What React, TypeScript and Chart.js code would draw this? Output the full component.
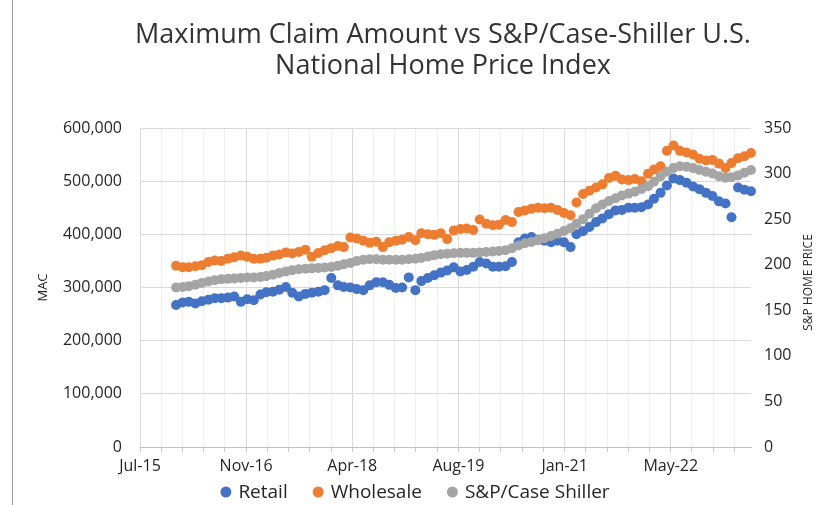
import { useEffect, useRef } from "react";
import { Chart, registerables } from "chart.js";

Chart.register(...registerables);

// ---- Data (monthly, Jan 2016 .. Jun 2023) ----
const firstMonth = { year: 2016, month: 0 };
const axisOrigin = { year: 2015, month: 6, day: 15 }; // "Jul-15"

const retail = [
  267, 272, 273, 270, 274, 277, 280, 280, 281, 283,
  273, 278, 276, 287, 291, 292, 296, 301, 290, 283,
  288, 290, 292, 295, 318, 304, 301, 300, 297, 295,
  304, 310, 310, 305, 299, 300, 319, 295, 312, 318,
  323, 328, 332, 338, 330, 333, 339, 348, 345, 339,
  339, 340, 348, 385, 392, 395, 390, 388, 385, 388,
  385, 376, 400, 406, 414, 423, 430, 438, 445, 446,
  450, 450, 451, 456, 467, 478, 492, 505, 502, 497,
  490, 485, 478, 472, 462, 458, 432, 488, 484, 481,
].map((v) => v * 1000);

const wholesale = [
  341, 338, 338, 340, 342, 348, 351, 350, 354, 357,
  360, 358, 354, 354, 356, 360, 362, 366, 364, 367,
  371, 358, 365, 370, 374, 378, 376, 394, 392, 388,
  384, 386, 376, 385, 388, 390, 395, 389, 402, 400,
  399, 402, 391, 407, 410, 411, 408, 428, 420, 417,
  418, 427, 423, 442, 445, 448, 450, 449, 450, 446,
  440, 436, 460, 476, 482, 488, 494, 506, 510, 503,
  502, 504, 500, 514, 522, 528, 557, 567, 557, 554,
  550, 542, 539, 540, 533, 525, 534, 543, 547, 553,
].map((v) => v * 1000);

const caseShiller = [
  175, 175.5, 176.5, 178, 180, 181.5, 183, 184, 184.5, 185,
  185.5, 186, 186, 186.5, 187.5, 189, 191, 192.5, 194, 195,
  195.5, 196, 196.5, 197, 197.5, 199, 200.5, 202, 204, 205.5,
  206, 206, 205.5, 205.5, 205.5, 205.5, 206, 206.5, 207.5, 209,
  210.5, 211.5, 212, 212.5, 213, 213, 213, 213.5, 214, 214.5,
  215, 216, 218, 221, 223.5, 225, 227, 229, 231.5, 234,
  237, 240, 245, 250, 256, 262, 266, 270, 273, 276,
  278, 280, 283, 286, 291, 297, 302, 306, 308, 307.5,
  306, 304, 302, 300, 297, 295.5, 296, 298, 301, 304,
];

const xTickLabels = ["Jul-15", "Nov-16", "Apr-18", "Aug-19", "Jan-21", "May-22"];
const xMajorStep = 500; // days
const xMinorStep = 100; // days
const titleLines = ["Maximum Claim Amount vs S&P/Case-Shiller U.S.", "National Home Price Index"];
const leftTitle = "MAC";
const rightTitle = "S&P HOME PRICE";

const seriesNames = ["Retail", "Wholesale", "S&P/Case Shiller"];
const seriesColors = ["#4472C4", "#ED7D31", "#A5A5A5"];

const DAY = 86400000;
const originMs = Date.UTC(axisOrigin.year, axisOrigin.month, axisOrigin.day);
const dayOffsets = retail.map(
  (_, i) => (Date.UTC(firstMonth.year, firstMonth.month + i, 1) - originMs) / DAY
);
const xMax = dayOffsets[dayOffsets.length - 1];

const FONT = '"Open Sans", "Noto Sans", sans-serif';
const TEXT = "#262626";
const TITLE_TEXT = "#333333";

const decorPlugin = {
  id: "decor",
  afterDraw(chart: any) {
    const ctx = chart.ctx as CanvasRenderingContext2D;
    const a = chart.chartArea;
    ctx.save();
    // frame line on the left
    ctx.strokeStyle = "#9a9a9a";
    ctx.lineWidth = 1;
    ctx.beginPath();
    ctx.moveTo(12.5, 0);
    ctx.lineTo(12.5, chart.height);
    ctx.stroke();

    // title
    ctx.fillStyle = TITLE_TEXT;
    ctx.textAlign = "center";
    ctx.textBaseline = "middle";
    ctx.font = `27px ${FONT}`;
    titleLines.forEach((t, i) => ctx.fillText(t, 443, 35 + i * 31));

    // axis titles
    ctx.fillStyle = TEXT;
    ctx.font = `13px ${FONT}`;
    const cy = (a.top + a.bottom) / 2;
    ctx.save();
    ctx.translate(43, cy);
    ctx.rotate(-Math.PI / 2);
    ctx.fillText(leftTitle, 0, 0);
    ctx.restore();
    ctx.font = `12px ${FONT}`;
    ctx.save();
    ctx.translate(809, cy - 5);
    ctx.rotate(-Math.PI / 2);
    ctx.fillText(rightTitle, 0, 0);
    ctx.restore();

    // legend
    ctx.font = `19px ${FONT}`;
    ctx.textAlign = "left";
    const dot = 11, gapText = 7, gapItem = 25;
    const widths = seriesNames.map((n) => dot + gapText + ctx.measureText(n).width);
    const total = widths.reduce((s, w) => s + w, 0) + gapItem * (widths.length - 1);
    let x = 415 - total / 2;
    const ly = 492;
    seriesNames.forEach((n, i) => {
      ctx.fillStyle = seriesColors[i];
      ctx.beginPath();
      ctx.arc(x + dot / 2, ly, dot / 2, 0, Math.PI * 2);
      ctx.fill();
      ctx.fillStyle = TEXT;
      ctx.fillText(n, x + dot + gapText, ly + 1);
      x += widths[i] + gapItem;
    });
    ctx.restore();
  },
};

export default function App() {
  const ref = useRef<HTMLCanvasElement | null>(null);

  useEffect(() => {
    if (!ref.current) return;
    const mk = (vals: number[]) => vals.map((y, i) => ({ x: dayOffsets[i], y }));
    const pointStyle = (c: string) => ({
      backgroundColor: c,
      borderColor: c,
      pointBackgroundColor: c,
      pointBorderColor: c,
      pointBorderWidth: 0,
      pointRadius: 5,
      pointHoverRadius: 5,
      showLine: false,
      clip: false as const,
    });
    const chart = new Chart(ref.current, {
      type: "scatter",
      data: {
        datasets: [
          { label: seriesNames[0], data: mk(retail), yAxisID: "y", order: 2, ...pointStyle(seriesColors[0]) },
          { label: seriesNames[1], data: mk(wholesale), yAxisID: "y", order: 1, ...pointStyle(seriesColors[1]) },
          { label: seriesNames[2], data: mk(caseShiller), yAxisID: "y1", order: 0, ...pointStyle(seriesColors[2]) },
        ],
      },
      options: {
        animation: false,
        responsive: true,
        maintainAspectRatio: false,
        events: [],
        layout: { padding: { left: 20, top: 128, right: 0, bottom: 0 } },
        plugins: {
          legend: { display: false },
          title: { display: false },
          tooltip: { enabled: false },
        },
        scales: {
          x: {
            type: "linear",
            min: 0,
            max: xMax,
            afterFit: (s: any) => {
              s.height = 58;
            },
            ticks: {
              stepSize: xMinorStep,
              autoSkip: false,
              includeBounds: false,
              maxRotation: 0,
              padding: 5,
              color: TEXT,
              font: { family: FONT, size: 16 },
              callback: (v: any) => {
                const n = Number(v);
                return n % xMajorStep === 0 ? xTickLabels[n / xMajorStep] ?? "" : "";
              },
            },
            grid: {
              color: (c: any) => (c.tick && c.tick.value % xMajorStep === 0 ? "#d9d9d9" : "#efefef"),
              tickColor: "#c8c8c8",
              tickLength: 5,
              drawTicks: true,
            },
            border: { color: "#bfbfbf" },
          },
          y: {
            position: "left",
            min: 0,
            max: 600000,
            afterFit: (s: any) => {
              s.width = 120;
            },
            ticks: {
              stepSize: 100000,
              padding: 18,
              color: TEXT,
              font: { family: FONT, size: 16 },
              callback: (v: any) => Number(v).toLocaleString("en-US"),
            },
            grid: { color: "#d9d9d9", drawTicks: false },
            border: { display: false },
          },
          y1: {
            position: "right",
            min: 0,
            max: 350,
            afterFit: (s: any) => {
              s.width = 72;
            },
            ticks: {
              stepSize: 50,
              padding: 13,
              color: TEXT,
              font: { family: FONT, size: 16 },
            },
            grid: { display: false, drawTicks: false },
            border: { display: false },
          },
        },
      },
      plugins: [decorPlugin],
    } as any);
    return () => chart.destroy();
  }, []);

  return (
    <div
      style={{
        position: "fixed",
        left: 0,
        top: 0,
        width: 823,
        height: 505,
        background: "#ffffff",
      }}
    >
      <canvas ref={ref} />
    </div>
  );
}
